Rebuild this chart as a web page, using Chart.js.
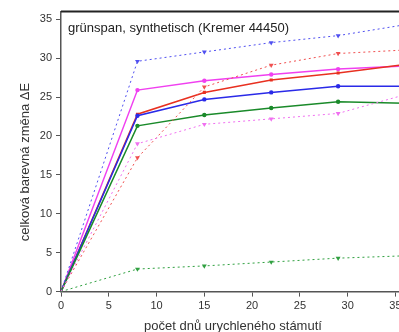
<!DOCTYPE html>
<html>
<head>
<meta charset="utf-8">
<script src="https://cdn.jsdelivr.net/npm/chart.js@4"></script>
<style>
  html, body { margin: 0; padding: 0; background: #fff; overflow: hidden; }
  #wrap { width: 410px; height: 340px; }
</style>
</head>
<body>
<div id="wrap"><canvas id="chart" width="410" height="340"></canvas></div>
<script>
// dny stárnutí
const days = [0, 8, 15, 22, 29, 36];

// plné čáry
const blueSolid    = [0, 22.6, 24.7, 25.6, 26.4, 26.4];
const redSolid     = [0, 22.8, 25.6, 27.2, 28.1, 29.2];
const magentaSolid = [0, 25.9, 27.1, 27.9, 28.6, 29.0];
const greenSolid   = [0, 21.3, 22.7, 23.6, 24.4, 24.2];

// tečkované čáry
const blueDotted    = [0, 29.6, 30.8, 32.0, 32.9, 34.3];
const redDotted     = [0, 17.2, 26.3, 29.1, 30.6, 31.05];
const magentaDotted = [0, 19.0, 21.5, 22.2, 22.9, 25.3];
const greenDotted   = [0, 2.9, 3.3, 3.8, 4.3, 4.6];

const xTicks = [0, 5, 10, 15, 20, 25, 30, 35];
const yTicks = [0, 5, 10, 15, 20, 25, 30, 35];

const titleText = 'grünspan, synthetisch (Kremer 44450)';
const yTitle = 'celková barevná změna \u0394E';
const xTitle = 'počet dnů urychleného stámutí';

function pts(vals) {
    return days.map((d, i) => ({ x: d, y: vals[i] }));
}

function solid(vals, color, shape) {
    return {
        data: pts(vals),
        borderColor: color,
        backgroundColor: color,
        borderWidth: 1.5,
        pointStyle: shape,
        pointRadius: (c) => c.dataIndex === 0 ? 0 : 2.2,
        pointBorderWidth: 0,
        tension: 0
    };
}

function dotted(vals, color) {
    return {
        data: pts(vals),
        borderColor: color,
        backgroundColor: color,
        borderWidth: 1,
        borderDash: [2, 3],
        pointStyle: 'triangle',
        pointRotation: 180,
        pointRadius: (c) => c.dataIndex === 0 ? 0 : 2.8,
        pointBorderWidth: 0,
        tension: 0
    };
}

const frame = {
    id: 'frame',
    afterDraw(chart) {
        const { ctx, chartArea } = chart;
        ctx.save();
        ctx.strokeStyle = '#222';
        ctx.lineWidth = 2;
        ctx.beginPath();
        ctx.moveTo(chartArea.left, chartArea.top);
        ctx.lineTo(chartArea.right, chartArea.top);
        ctx.stroke();

        ctx.fillStyle = '#222';
        ctx.font = '13px "Liberation Sans", Arial, sans-serif';
        ctx.textBaseline = 'middle';
        ctx.fillText(titleText, 68, 28);

        ctx.fillStyle = '#333';
        ctx.translate(25, 162);
        ctx.rotate(-Math.PI / 2);
        ctx.textAlign = 'center';
        ctx.fillText(yTitle, 0, 0);
        ctx.restore();
    }
};

const tickFont = { family: '"Liberation Sans", Arial, sans-serif', size: 11 };

new Chart(document.getElementById('chart'), {
    type: 'line',
    data: {
        datasets: [
            dotted(greenDotted, '#30a040'),
            dotted(magentaDotted, '#f070f0'),
            dotted(redDotted, '#f05050'),
            dotted(blueDotted, '#5050f0'),
            solid(greenSolid, '#1a8a2a', 'circle'),
            solid(blueSolid, '#2a2ae8', 'circle'),
            solid(redSolid, '#e83020', 'rect'),
            solid(magentaSolid, '#f040f0', 'circle')
        ]
    },
    options: {
        responsive: false,
        animation: false,
        devicePixelRatio: 1,
        layout: { padding: { top: 11.5, right: 5, left: 0, bottom: 0 } },
        plugins: { legend: { display: false }, tooltip: { enabled: false } },
        scales: {
            x: {
                type: 'linear',
                min: 0,
                max: 36,
                afterBuildTicks: (s) => { s.ticks = xTicks.map(v => ({ value: v })); },
                afterFit: (s) => { s.height = 48.4; },
                grid: { drawOnChartArea: false, drawTicks: true, tickLength: 5, color: '#555', lineWidth: 1 },
                border: { display: true, color: '#555', width: 1.5 },
                ticks: { color: '#333', font: tickFont, padding: 3, maxRotation: 0 },
                title: {
                    display: true,
                    text: xTitle,
                    color: '#333',
                    font: { family: '"Liberation Sans", Arial, sans-serif', size: 13 },
                    padding: { top: 0, bottom: 6 }
                }
            },
            y: {
                min: 0,
                max: 36,
                afterBuildTicks: (s) => { s.ticks = yTicks.map(v => ({ value: v })); },
                afterFit: (s) => { s.width = 61; },
                grid: { drawOnChartArea: false, drawTicks: true, tickLength: 5, color: '#555', lineWidth: 1 },
                border: { display: true, color: '#555', width: 1.5 },
                ticks: { color: '#333', font: tickFont, padding: 4 }
            }
        }
    },
    plugins: [frame]
});
</script>
</body>
</html>
